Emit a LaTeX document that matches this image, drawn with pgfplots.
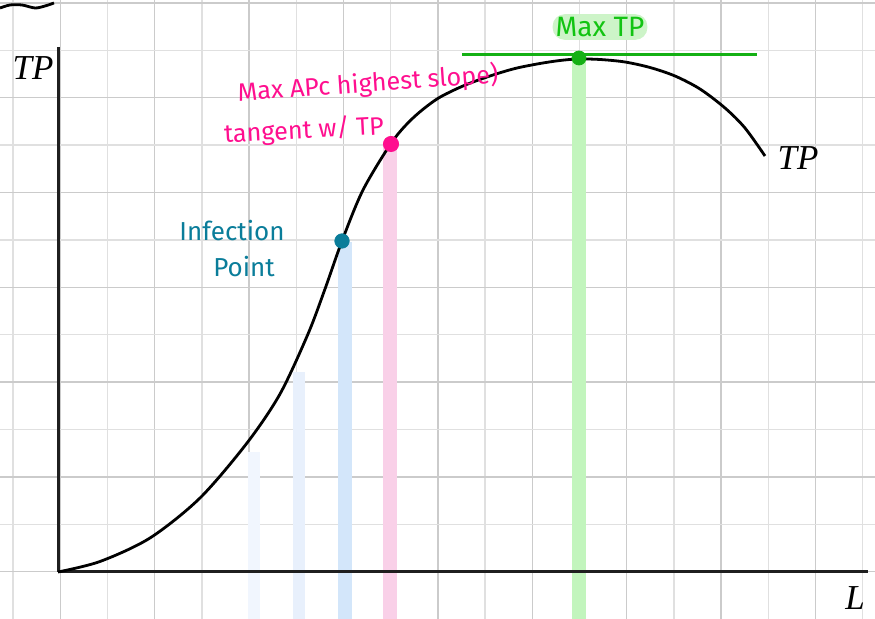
\documentclass[border=0pt]{standalone}
\usepackage{pgfplots}
\pgfplotsset{compat=1.18}
\usepackage{fontspec}
\newfontfamily\hand{Fira Sans}
\newfontfamily\serifit{Liberation Serif}
\definecolor{gridA}{HTML}{CBCBCB}
\definecolor{gridB}{HTML}{E0E0E0}
\definecolor{hpink}{HTML}{FF0F8F}
\definecolor{hteal}{HTML}{0A7D9A}
\definecolor{hgreen}{HTML}{14B014}
\definecolor{hgreenT}{HTML}{12C412}
\definecolor{barblue}{HTML}{D3E6FA}
\definecolor{barblueF}{HTML}{F1F6FE}
\definecolor{barblueM}{HTML}{E8F0FC}
\definecolor{barpink}{HTML}{F9D0E8}
\definecolor{bargreen}{HTML}{C2F5BD}
\definecolor{hlgreen}{HTML}{CDF4C8}
\begin{document}
\begin{tikzpicture}
\begin{axis}[
  width=437.5pt, height=309.5pt, scale only axis,
  xmin=0, xmax=875, ymin=0, ymax=619, y dir=reverse,
  axis line style={draw=none},
  xtick={60.2,154.6,249,343.4,437.8,532.2,626.6,721,815.4},
  minor xtick={13,107.4,201.8,296.2,390.6,485,579.4,673.8,768.2,862.6},
  ytick={3,97.8,192.6,287.4,382.2,477,571.8},
  minor ytick={50.4,145.2,240,334.8,429.6,524.4,619.2},
  xticklabels={}, yticklabels={},
  major tick length=0pt, minor tick length=0pt,
  grid=both,
  major grid style={draw=gridA, line width=0.7pt},
  minor grid style={draw=gridB, line width=0.7pt},
  clip=true,
]
% highlight bars
\addplot[draw=barblueF, line width=6pt, forget plot] coordinates {(254,452) (254,619)};
\addplot[draw=barblueM, line width=6pt, forget plot] coordinates {(299,372) (299,619)};
\addplot[draw=barblue, line width=7pt, forget plot] coordinates {(345,242) (345,619)};
\addplot[draw=barpink, line width=7pt, forget plot] coordinates {(390,145) (390,619)};
\addplot[draw=bargreen, line width=7pt, forget plot] coordinates {(579,60) (579,619)};
% axes
\addplot[draw=black!88, line width=1.5pt, forget plot] coordinates {(58,47) (58,572)};
\addplot[draw=black!88, line width=1.5pt, forget plot] coordinates {(58,572) (868,572)};
% top-left squiggle
\addplot[draw=black, line width=1.4pt, smooth, forget plot] coordinates {(0,8) (10,5) (22,5) (35,8) (45,6) (54,3)};
% Max TP tangent line
\addplot[draw=hgreen, line width=1.5pt, forget plot] coordinates {(462,55) (757,55)};
% TP curve
\addplot[draw=black, line width=1.4pt, smooth, forget plot] coordinates {
(58,572) (100,561.5) (150,538) (200,498) (247,443) (280,394) (308,334) (325,289)
(342,241) (363,190) (392,142) (413,118) (437,99) (463,86) (490,76) (515,68.5)
(540,63.5) (560,60.5) (578,59) (600,59.5) (625,62) (650,67.5) (675,76)
(700,89) (725,108) (745,128) (765,156)};
% dots
\addplot[only marks, mark=*, mark size=3.6pt, color=hteal, forget plot] coordinates {(342,241)};
\addplot[only marks, mark=*, mark size=3.8pt, color=hpink, forget plot] coordinates {(391,144)};
\addplot[only marks, mark=*, mark size=3.5pt, color=hgreen, forget plot] coordinates {(579,58)};
% labels
\node[font=\serifit\itshape\fontsize{17.5}{17.5}\selectfont] at (axis cs:33,68) {TP};
\node[font=\serifit\itshape\fontsize{17.5}{17.5}\selectfont] at (axis cs:798,158) {TP};
\node[font=\serifit\itshape\fontsize{17.5}{17.5}\selectfont] at (axis cs:855,598) {L};
\node[font=\hand\fontsize{14}{14}\selectfont, text=hgreenT, fill=hlgreen, rounded corners=6pt, inner sep=1.5pt] at (axis cs:600,27) {Max TP};
\node[font=\hand\fontsize{12.6}{12.6}\selectfont, text=hpink, rotate=4] at (axis cs:368,84) {Max APc highest slope)};
\node[font=\hand\fontsize{12.6}{12.6}\selectfont, text=hpink, rotate=3] at (axis cs:304,131) {tangent w/ TP};
\node[font=\hand\fontsize{13}{13}\selectfont, text=hteal] at (axis cs:232,231) {Infection};
\node[font=\hand\fontsize{13}{13}\selectfont, text=hteal] at (axis cs:244,267) {Point};
\end{axis}
\pgfresetboundingbox
\path[use as bounding box] (current axis.south west) rectangle (current axis.north east);
\end{tikzpicture}
\end{document}
